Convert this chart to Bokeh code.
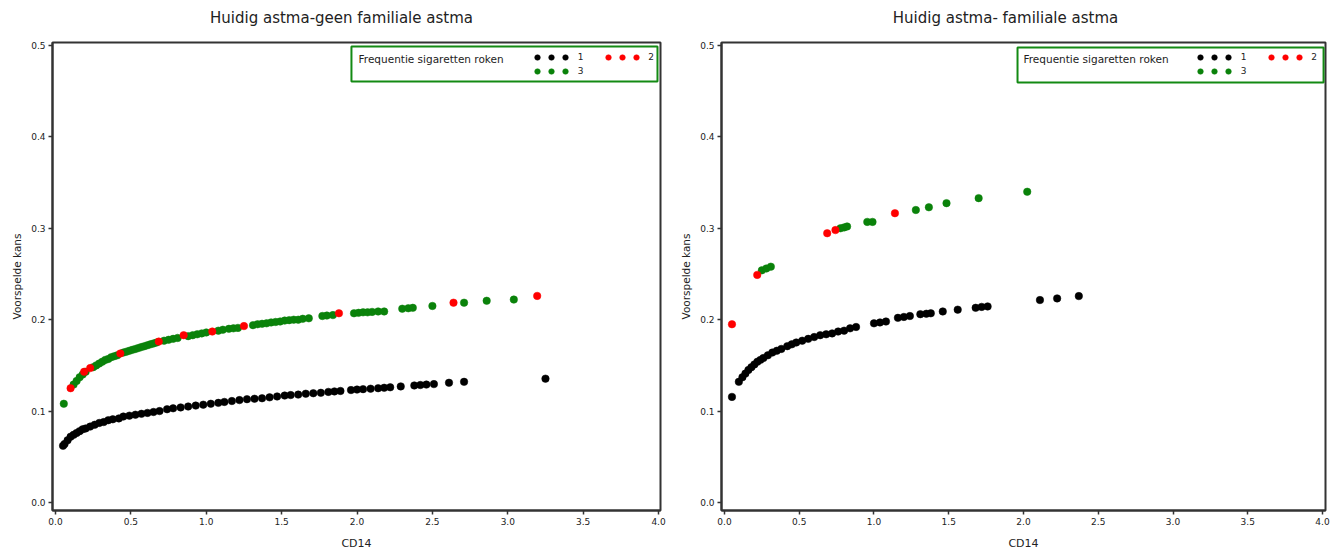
from bokeh.plotting import figure
from bokeh.layouts import row, column
from bokeh.models import FixedTicker, Range1d, Legend, LegendItem, BoxAnnotation, Label
from bokeh.embed import file_html
from bokeh.resources import INLINE

titles = ["Huidig astma-geen familiale astma", "Huidig astma- familiale astma"]
x_label = "CD14"
y_label = "Voorspelde kans"
legend_title = "Frequentie sigaretten roken"
groups = ["1", "2", "3"]
colors = ["black", "#FF0000", "#0A820A"]

x_ticks = [0.0, 0.5, 1.0, 1.5, 2.0, 2.5, 3.0, 3.5, 4.0]
x_tick_labels = ["0.0", "0.5", "1.0", "1.5", "2.0", "2.5", "3.0", "3.5", "4.0"]
y_ticks = [0.0, 0.1, 0.2, 0.3, 0.4, 0.5]
y_tick_labels = ["0.0", "0.1", "0.2", "0.3", "0.4", "0.5"]

# ---- left panel: geen familiale astma ----
left_g1_x = [0.05, 0.06, 0.08, 0.10, 0.12, 0.14, 0.16, 0.18, 0.20, 0.23,
             0.26, 0.29, 0.32, 0.35, 0.38, 0.42, 0.45, 0.49, 0.53, 0.57,
             0.61, 0.65, 0.69, 0.74, 0.78, 0.83, 0.88, 0.93, 0.98, 1.03,
             1.08, 1.12, 1.17, 1.22, 1.27, 1.32, 1.37, 1.42, 1.47, 1.52,
             1.56, 1.61, 1.66, 1.71, 1.76, 1.81, 1.85, 1.89, 1.96, 2.00,
             2.04, 2.09, 2.14, 2.18, 2.22, 2.29, 2.38, 2.42, 2.46, 2.51,
             2.61, 2.71, 3.25]
left_g1_y = [0.062, 0.064, 0.068, 0.072, 0.074, 0.076, 0.078, 0.080, 0.081, 0.083,
             0.085, 0.087, 0.088, 0.090, 0.091, 0.092, 0.094, 0.095, 0.096, 0.097,
             0.098, 0.099, 0.100, 0.102, 0.103, 0.104, 0.105, 0.106, 0.107, 0.108,
             0.109, 0.110, 0.111, 0.112, 0.113, 0.1135, 0.114, 0.115, 0.116, 0.117,
             0.1175, 0.118, 0.119, 0.1195, 0.120, 0.121, 0.1215, 0.122, 0.123, 0.1235,
             0.124, 0.1245, 0.125, 0.1255, 0.126, 0.127, 0.128, 0.1285, 0.129, 0.1295,
             0.131, 0.132, 0.1355]
left_g2_x = [0.10, 0.19, 0.23, 0.43, 0.685, 0.85, 1.04, 1.25, 1.88, 2.64, 3.195]
left_g2_y = [0.125, 0.143, 0.147, 0.163, 0.176, 0.183, 0.187, 0.193, 0.207, 0.2186, 0.226]
left_g3_x = [0.055, 0.12, 0.14, 0.16, 0.18, 0.20, 0.25, 0.27, 0.29, 0.31,
             0.33, 0.35, 0.37, 0.39, 0.41, 0.45, 0.47, 0.49, 0.51, 0.53,
             0.55, 0.57, 0.59, 0.61, 0.63, 0.65, 0.67, 0.72, 0.75, 0.78,
             0.81, 0.88, 0.91, 0.94, 0.97, 1.00, 1.08, 1.11, 1.15, 1.18,
             1.21, 1.31, 1.34, 1.37, 1.40, 1.43, 1.46, 1.49, 1.52, 1.55,
             1.58, 1.61, 1.64, 1.68, 1.77, 1.80, 1.84, 1.98, 2.01, 2.04,
             2.07, 2.10, 2.14, 2.18, 2.30, 2.34, 2.37, 2.50, 2.71, 2.86,
             3.04]
left_g3_y = [0.108, 0.129, 0.133, 0.137, 0.140, 0.143, 0.148, 0.150, 0.152, 0.154,
             0.156, 0.157, 0.159, 0.160, 0.161, 0.164, 0.165, 0.166, 0.167, 0.168,
             0.169, 0.170, 0.171, 0.172, 0.173, 0.174, 0.175, 0.177, 0.178, 0.179,
             0.180, 0.182, 0.183, 0.184, 0.185, 0.186, 0.188, 0.189, 0.190, 0.1905,
             0.191, 0.194, 0.195, 0.1955, 0.196, 0.197, 0.1975, 0.198, 0.199, 0.1995,
             0.200, 0.200, 0.201, 0.2015, 0.204, 0.2045, 0.205, 0.207, 0.2075, 0.208,
             0.208, 0.2085, 0.209, 0.209, 0.212, 0.2125, 0.213, 0.215, 0.2186, 0.2207,
             0.222]

# ---- right panel: familiale astma ----
right_g1_x = [0.05, 0.096, 0.12, 0.14, 0.16, 0.18, 0.20, 0.22, 0.24, 0.26,
              0.29, 0.32, 0.35, 0.38, 0.42, 0.45, 0.48, 0.52, 0.56, 0.60,
              0.64, 0.68, 0.72, 0.76, 0.80, 0.84, 0.88, 1.00, 1.04, 1.08,
              1.16, 1.20, 1.24, 1.31, 1.35, 1.38, 1.46, 1.56, 1.68, 1.72,
              1.76, 2.11, 2.225, 2.37]
right_g1_y = [0.1155, 0.132, 0.137, 0.141, 0.145, 0.148, 0.151, 0.154, 0.156, 0.158,
              0.161, 0.164, 0.166, 0.168, 0.171, 0.173, 0.175, 0.177, 0.179, 0.181,
              0.183, 0.184, 0.185, 0.187, 0.188, 0.1905, 0.192, 0.196, 0.197, 0.198,
              0.202, 0.203, 0.204, 0.206, 0.2065, 0.207, 0.209, 0.211, 0.213, 0.214,
              0.2145, 0.2215, 0.2233, 0.2258]
right_g2_x = [0.05, 0.219, 0.687, 0.742, 1.14]
right_g2_y = [0.195, 0.249, 0.2946, 0.298, 0.3165]
right_g3_x = [0.25, 0.28, 0.31, 0.776, 0.80, 0.82, 0.955, 0.99, 1.28, 1.367, 1.485, 1.70, 2.025]
right_g3_y = [0.254, 0.256, 0.258, 0.300, 0.301, 0.302, 0.307, 0.307, 0.320, 0.323, 0.3275, 0.333, 0.340]

FONT = "DejaVu Sans"
TXT = "#222222"
FRAME_H = 468
Y_RANGE = (-0.0088, 0.5033)
NB = "\u00a0"
HEADER_H = 30
TOTAL_W = 1330


def make_panel(series, xr, frame_w, border_left, border_right, box, legend_loc):
    p = figure(output_backend="svg", toolbar_location=None,
               frame_width=frame_w, frame_height=FRAME_H,
               min_border_left=border_left, min_border_right=border_right,
               min_border_top=12, min_border_bottom=30,
               x_range=Range1d(*xr), y_range=Range1d(*Y_RANGE))

    p.xgrid.visible = False
    p.ygrid.visible = False
    p.outline_line_color = "#333333"
    p.outline_line_width = 2
    p.background_fill_color = "white"
    p.border_fill_color = "white"

    for ax in (p.xaxis[0], p.yaxis[0]):
        ax.axis_line_color = "#333333"
        ax.axis_line_width = 2
        ax.major_tick_line_color = "#333333"
        ax.major_tick_line_width = 1.5
        ax.major_tick_out = 4
        ax.major_tick_in = 0
        ax.minor_tick_line_color = None
        ax.major_label_text_font = FONT
        ax.major_label_text_font_size = "9px"
        ax.major_label_text_color = TXT
        ax.axis_label_text_font = FONT
        ax.axis_label_text_font_style = "normal"
        ax.axis_label_text_color = TXT
        ax.major_label_standoff = 3

    p.xaxis.ticker = FixedTicker(ticks=x_ticks)
    p.xaxis.major_label_overrides = {t: l for t, l in zip(x_ticks, x_tick_labels)}
    p.yaxis.ticker = FixedTicker(ticks=y_ticks)
    p.yaxis.major_label_overrides = {t: l for t, l in zip(y_ticks, y_tick_labels)}
    p.xaxis.axis_label = x_label
    p.yaxis.axis_label = y_label
    p.xaxis.axis_label_text_font_size = "11px"
    p.yaxis.axis_label_text_font_size = "10.5px"
    p.xaxis.axis_label_standoff = 9
    p.yaxis.axis_label_standoff = 5

    renderers = {}
    for gi in (0, 2, 1):
        xs, ys = series[gi]
        r = p.scatter(xs, ys, marker="circle", size=7.5, fill_color=colors[gi],
                      line_color=colors[gi], line_width=0.5)
        renderers[gi] = r

    # legend frame and title
    bl, br, bb, bt, tx, ty = box
    p.add_layout(BoxAnnotation(left=bl, right=br, bottom=bb, top=bt,
                               fill_color="white", fill_alpha=1.0,
                               line_color="#138A13", line_alpha=1.0,
                               line_width=2, level="overlay"))
    p.add_layout(Label(x=tx, y=ty, text=legend_title, text_font=FONT,
                       text_font_size="10.5px", text_color=TXT,
                       text_baseline="middle", text_align="left", level="overlay"))

    # each group is shown with three symbols followed by its label
    items = []
    for gi in (0, 1, 2):
        for k in range(3):
            if k < 2:
                lab = ""
            elif gi == 0:
                lab = NB + NB + groups[gi] + NB * 6
            else:
                lab = NB + NB + groups[gi]
            items.append(LegendItem(label=lab, renderers=[renderers[gi]]))
    leg = Legend(items=items, orientation="horizontal",
                 location=legend_loc, margin=0, padding=0, spacing=0,
                 glyph_width=14, glyph_height=14, label_standoff=0,
                 label_width=0, label_height=14,
                 border_line_color=None, background_fill_alpha=0.0,
                 label_text_font=FONT, label_text_font_size="9px",
                 label_text_color=TXT)
    try:
        leg.ncols = 6
    except Exception:
        pass
    p.add_layout(leg, "center")
    return p


# header strip carrying the two panel titles
header = figure(output_backend="svg", toolbar_location=None,
                width=TOTAL_W, height=HEADER_H,
                min_border_left=0, min_border_right=0, min_border_top=0, min_border_bottom=0,
                x_axis_type=None, y_axis_type=None,
                x_range=Range1d(0, TOTAL_W), y_range=Range1d(0, HEADER_H))
header.outline_line_color = None
header.background_fill_color = "white"
header.border_fill_color = "white"
for t, cx in zip(titles, (341, 1005)):
    header.add_layout(Label(x=cx, y=13, text=t, text_font=FONT, text_font_size="15px",
                            text_color=TXT, text_align="center", text_baseline="middle"))

p1 = make_panel([(left_g1_x, left_g1_y), (left_g2_x, left_g2_y), (left_g3_x, left_g3_y)],
                (-0.02, 4.013), 608, 52, 8,
                (1.963, 3.993, 0.4606, 0.4989, 2.01, 0.4847), (478, 432))
p2 = make_panel([(right_g1_x, right_g1_y), (right_g2_x, right_g2_y), (right_g3_x, right_g3_y)],
                (-0.02, 4.02), 604, 53, 5,
                (1.96, 4.007, 0.4595, 0.4978, 2.0, 0.4847), (472, 432))

layout = column(header, row(p1, p2))
open("out.html", "w").write(file_html(layout, INLINE))
